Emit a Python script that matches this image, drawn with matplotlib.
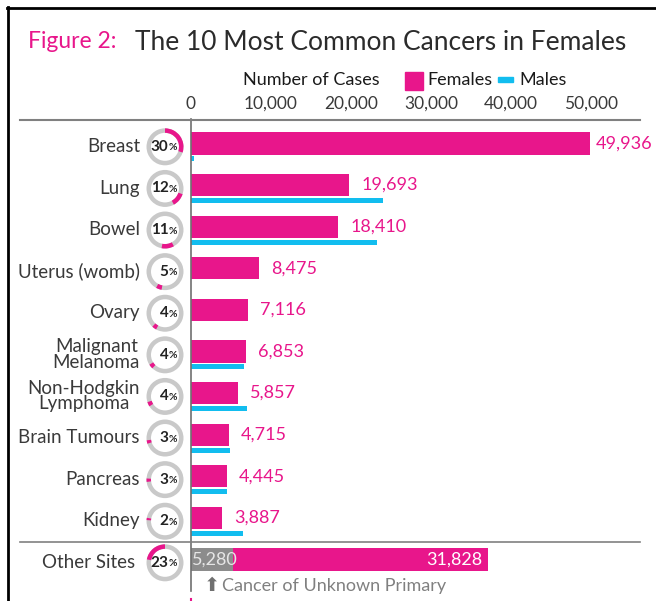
import matplotlib
matplotlib.use("Agg")
import matplotlib.pyplot as plt
import matplotlib.transforms as mtransforms
from matplotlib.patches import Wedge, Rectangle
from matplotlib.lines import Line2D
import numpy as np

plt.rcParams['font.family'] = ['Lato', 'DejaVu Sans']

# ── data ──
cancers = ["Breast", "Lung", "Bowel", "Uterus (womb)", "Ovary",
           "Malignant\nMelanoma", "Non-Hodgkin\nLymphoma", "Brain Tumours",
           "Pancreas", "Kidney"]
females = [49936, 19693, 18410, 8475, 7116, 6853, 5857, 4715, 4445, 3887]
males = [400, 24000, 23300, 0, 0, 6600, 7000, 4870, 4500, 6500]
shares = [30, 12, 11, 5, 4, 4, 4, 3, 3, 2]

other_label = "Other Sites"
other_unknown = 5280
other_rest = 31828
other_share = 23

ticks = [0, 10000, 20000, 30000, 40000, 50000]

PINK = "#e8168b"
BLUE = "#12bdef"
GREY_BAR = "#8c8c8c"
RING = "#c9c9c9"
TXT = "#3a3a3a"

W, H = 656, 601
fig = plt.figure(figsize=(W / 100, H / 100), dpi=100)

# axes: x=0 at px 191, 8 px per 1000 cases; rows every 41.6 px from y=143.5
ax_left, ax_top = 191, 120
ax = fig.add_axes([ax_left / W, 0, (W - ax_left) / W, (H - ax_top) / H])
ax.set_xlim(0, (W - ax_left) / 8.0 * 1000)
row_px = 41.6
ax.set_ylim((H - 143.5) / row_px, -(143.5 - ax_top) / row_px)

rows = np.arange(len(cancers))
ax.barh(rows, females, height=0.53, color=PINK, linewidth=0)
ax.barh(rows + 0.37, males, height=0.12, color=BLUE, linewidth=0)

other_row = len(cancers)
ax.barh(other_row, other_unknown, height=0.55, color=GREY_BAR, linewidth=0)
ax.barh(other_row, other_rest, left=other_unknown, height=0.55, color=PINK, linewidth=0)

# value labels
for i, v in enumerate(females):
    off = 4 if i == 0 else 9
    ax.annotate(f"{v:,}", xy=(v, i), xytext=(off, 0), textcoords="offset points",
                ha="left", va="center", color=PINK, fontsize=13, clip_on=False)
ax.annotate(f"{other_unknown:,}", xy=(0, other_row), xytext=(1, 0), textcoords="offset points",
            ha="left", va="center", color="#e6e6e6", fontsize=13)
ax.annotate(f"{other_rest:,}", xy=(other_unknown + other_rest, other_row), xytext=(-4, 0),
            textcoords="offset points", ha="right", va="center", color="white", fontsize=13)

blend = mtransforms.blended_transform_factory(ax.transAxes, ax.transData)
ax.text(0.027, other_row + 0.63, "\u2b06", transform=blend,
        ha="left", va="center", color="#707070", fontsize=14, family=["DejaVu Sans"])
ax.text(0.066, other_row + 0.63, "Cancer of Unknown Primary", transform=blend,
        ha="left", va="center", color="#808080", fontsize=13)

# axis styling
ax.xaxis.tick_top()
ax.set_xticks(ticks)
ax.set_xticklabels([f"{t:,}" for t in ticks])
ax.tick_params(axis="x", length=0, pad=6, labelsize=12.5, labelcolor=TXT)
ax.set_yticks([])
for s in ["top", "right", "bottom"]:
    ax.spines[s].set_visible(False)
ax.spines["left"].set_color("#707070")
ax.spines["left"].set_linewidth(1.2)
ax.spines["left"].set_bounds(-0.6, 10.75)
ax.plot([0, 0], [10.95, 11.2], color=PINK, lw=1.5, clip_on=False)

# category labels
lab_x = (140 - ax_left) / (W - ax_left)
for i, name in enumerate(cancers + [other_label]):
    ax.text(lab_x if i < len(cancers) else lab_x - 0.01, i + 0.07, name, transform=blend,
            ha="right", va="center", multialignment="center",
            fontsize=13.5, color=TXT, linespacing=0.9)

# ring charts showing share of all female cancers
circ_x = (165 - ax_left) / (W - ax_left)
r_out, ring_w = 0.185, 0.045
all_shares = shares + [other_share]
start = 0
for i, sh in enumerate(all_shares):
    cy = i + 0.08
    trans = fig.dpi_scale_trans + mtransforms.ScaledTranslation(circ_x, cy, blend)
    ax.add_patch(Wedge((0, 0), r_out, 0, 360, width=ring_w, facecolor=RING,
                       edgecolor="none", transform=trans, clip_on=False))
    end = min(start + sh, 100)
    ax.add_patch(Wedge((0, 0), r_out, 90 - 3.6 * end, 90 - 3.6 * start, width=ring_w,
                       facecolor=PINK, edgecolor="none", transform=trans, clip_on=False))
    start += sh
    ax.annotate(str(sh), xy=(circ_x, cy), xycoords=blend, xytext=(2.5, 0),
                textcoords="offset points", ha="right", va="center",
                fontsize=11, fontweight="bold", color="#222222")
    ax.annotate("%", xy=(circ_x, cy), xycoords=blend, xytext=(2.5, -0.8),
                textcoords="offset points", ha="left", va="center",
                fontsize=7.5, fontweight="bold", color="#222222")

# separator lines
fblend = mtransforms.blended_transform_factory(fig.transFigure, ax.transData)
fig.add_artist(Line2D([20 / W, 640 / W], [9.57, 9.57], transform=fblend, color="#808080", lw=1.2))
fig.add_artist(Line2D([20 / W, 640 / W], [1 - ax_top / H, 1 - ax_top / H], color="#808080", lw=1.5))

# frame
fig.add_artist(Line2D([8 / W, 8 / W], [0, 1 - 7 / H], color="black", lw=2))
fig.add_artist(Line2D([7 / W, 1], [1 - 8 / H, 1 - 8 / H], color="black", lw=2))

# title
fig.text(28 / W, 1 - 42 / H, "Figure 2:", color=PINK, fontsize=16.5, ha="left", va="center")
fig.text(135 / W, 1 - 42 / H, "The 10 Most Common Cancers in Females", color="#2b2b2b",
         fontsize=19, ha="left", va="center")

# legend
fig.text(243 / W, 1 - 80 / H, "Number of Cases", color="#1a1a1a", fontsize=13,
         ha="left", va="center")
fig.add_artist(Rectangle((405 / W, 1 - 90 / H), 18 / W, 18 / H, color=PINK, transform=fig.transFigure))
fig.text(427 / W, 1 - 80 / H, "Females", color="#1a1a1a", fontsize=13,
         ha="left", va="center")
fig.add_artist(Rectangle((498 / W, 1 - 82 / H), 15 / W, 5 / H, color=BLUE, transform=fig.transFigure))
fig.text(519 / W, 1 - 80 / H, "Males", color="#1a1a1a", fontsize=13,
         ha="left", va="center")

fig.savefig("out.png", dpi=100)
